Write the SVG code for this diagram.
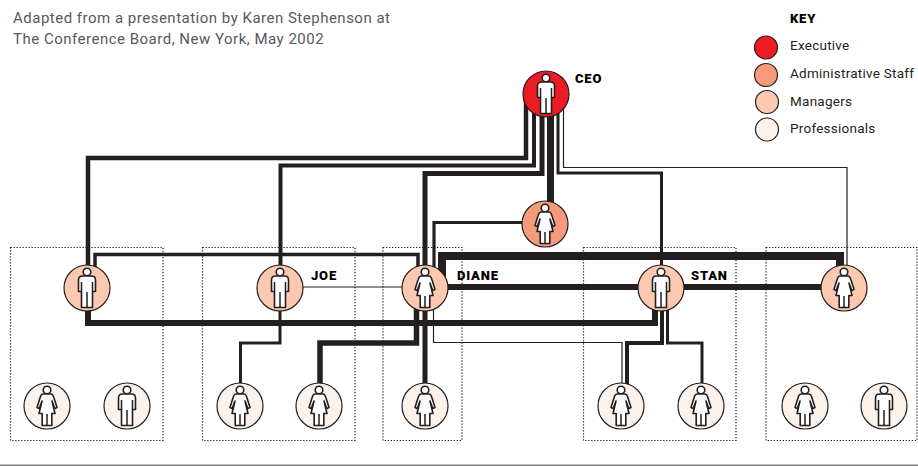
<svg xmlns="http://www.w3.org/2000/svg" width="918" height="466" viewBox="0 0 918 466">
<style>
.t{font-family:"Roboto","Liberation Sans",sans-serif;font-size:15px;fill:#58595b;letter-spacing:.5px}
.k{font-family:"Roboto","Liberation Sans",sans-serif;font-size:13.5px;fill:#231f20;letter-spacing:.25px}
.b{font-family:"Roboto","Liberation Sans",sans-serif;font-size:13px;font-weight:900;fill:#000;letter-spacing:.8px}
.box{fill:none;stroke:#231f20;stroke-width:1.2;stroke-dasharray:1.3 1.7}
.c{fill:none;stroke:#231f20;stroke-linejoin:miter}
.n{stroke:#231f20;stroke-width:1.2}
.ex{fill:#ed1c24}.ad{fill:#f79a7c}.mg{fill:#fcc8b0}.pr{fill:#fdf2ea}
.f{fill:#fff;stroke:#231f20;stroke-width:1.6;stroke-linejoin:round}
.l{fill:none;stroke:#231f20;stroke-width:1.5}
</style>
<defs>
<g id="man"><circle class="f" cy="-16" r="3.8"/><path class="f" d="M-8.500-8Q-8.500-12-4.500-12H4.500Q8.500-12 8.500-8V3.500H5.500V19.500H-5.500V3.500H-8.500Z"/><path class="l" d="M-5.500-6V3.500M5.500-6V3.500M0 4V20"/></g>
<g id="woman"><circle class="f" cy="-16" r="3.8"/><path class="f" d="M-4-12H4Q6-12 7-8L10 1.500 7.800 2.500 5-5 8 7.500H4.800V19.500H-4.800V7.500H-8L-5-5-7.800 2.500-10 1.500-7-8Q-6-12-4-12Z"/><path class="l" d="M0 8V20"/></g>
</defs>
<rect width="918" height="466" fill="#fff"/>
<text class="t" x="13" y="23">Adapted from a presentation by Karen Stephenson at</text>
<text class="t" x="13" y="44">The Conference Board, New York, May 2002</text>
<g id="groups">
<rect class="box" x="10.500" y="247.500" width="152.500" height="193"/>
<rect class="box" x="202.500" y="247.500" width="152.500" height="193"/>
<rect class="box" x="383" y="247.500" width="79" height="193"/>
<rect class="box" x="583.500" y="247.500" width="152.500" height="193"/>
<rect class="box" x="766" y="247.500" width="151" height="193"/>
</g>
<g id="connectors">
<path class="c" stroke-width="4.500" d="M526 100V158H88V288"/>
<path class="c" stroke-width="4" d="M534 100V165.500H280.500V288"/>
<path class="c" stroke-width="5" d="M542 100V173.500H425V406"/>
<path class="c" stroke-width="7" d="M550.500 100V224"/>
<path class="c" stroke-width="3" d="M558 100V173H661.500V288"/>
<path class="c" stroke-width="1.200" d="M563.500 100V167.500H847V288"/>
<path class="c" stroke-width="3.200" d="M545 222.500H434V288"/>
<path class="c" stroke-width="3.500" d="M95 288V254.500H418V288"/>
<path class="c" stroke-width="8" d="M442 288V256H840V288"/>
<path class="c" stroke-width="6" d="M425 287H844"/>
<path class="c" stroke-width="1" stroke="#555" d="M280 287H425"/>
<path class="c" stroke-width="6" d="M88 288V323H655V288"/>
<path class="c" stroke-width="3" d="M280 288V343H240.500V406"/>
<path class="c" stroke-width="5.500" d="M416.500 288V343H320V406"/>
<path class="c" stroke-width="1.200" d="M433.500 288V342.500H622V406"/>
<path class="c" stroke-width="4" d="M662 288V343H627V406"/>
<path class="c" stroke-width="3" d="M667.500 288V343H702V406"/>
</g>
<g id="ceo"><circle class="n ex" cx="546" cy="94" r="23"/><use href="#man" x="546" y="94"/><text class="b" x="575" y="83">CEO</text></g>
<g id="admin"><circle class="n ad" cx="545" cy="224" r="23"/><use href="#woman" x="545" y="224"/></g>
<g id="m1"><circle class="n mg" cx="87" cy="288" r="23"/><use href="#man" x="87" y="288"/></g>
<g id="joe"><circle class="n mg" cx="280" cy="288" r="23"/><use href="#man" x="280" y="288"/><text class="b" x="311" y="280">JOE</text></g>
<g id="diane"><circle class="n mg" cx="425" cy="288" r="23"/><use href="#woman" x="425" y="288"/><text class="b" x="457" y="280">DIANE</text></g>
<g id="stan"><circle class="n mg" cx="661" cy="288" r="23"/><use href="#man" x="661" y="288"/><text class="b" x="691" y="280">STAN</text></g>
<g id="m5"><circle class="n mg" cx="844" cy="288" r="23"/><use href="#woman" x="844" y="288"/></g>
<g id="p1"><circle class="n pr" cx="47" cy="406" r="23"/><use href="#woman" x="47" y="406"/></g>
<g id="p2"><circle class="n pr" cx="127" cy="406" r="23"/><use href="#man" x="127" y="406"/></g>
<g id="p3"><circle class="n pr" cx="240" cy="406" r="23"/><use href="#woman" x="240" y="406"/></g>
<g id="p4"><circle class="n pr" cx="319" cy="406" r="23"/><use href="#woman" x="319" y="406"/></g>
<g id="p5"><circle class="n pr" cx="425" cy="406" r="23"/><use href="#woman" x="425" y="406"/></g>
<g id="p6"><circle class="n pr" cx="621" cy="406" r="23"/><use href="#woman" x="621" y="406"/></g>
<g id="p7"><circle class="n pr" cx="701" cy="406" r="23"/><use href="#woman" x="701" y="406"/></g>
<g id="p8"><circle class="n pr" cx="805" cy="406" r="23"/><use href="#woman" x="805" y="406"/></g>
<g id="p9"><circle class="n pr" cx="884" cy="406" r="23"/><use href="#man" x="884" y="406"/></g>
<g id="key">
<text class="b" x="790" y="23">KEY</text>
<circle class="n ex" cx="766" cy="47.500" r="11.500"/><text class="k" x="790" y="50">Executive</text>
<circle class="n ad" cx="766" cy="75" r="11.500"/><text class="k" x="790" y="78">Administrative Staff</text>
<circle class="n mg" cx="767" cy="102" r="11.500"/><text class="k" x="790" y="106">Managers</text>
<circle class="n pr" cx="767" cy="129.500" r="11.500"/><text class="k" x="790" y="133">Professionals</text>
</g>
<rect x="0" y="464.500" width="918" height="1.500" fill="#808080"/>
</svg>
